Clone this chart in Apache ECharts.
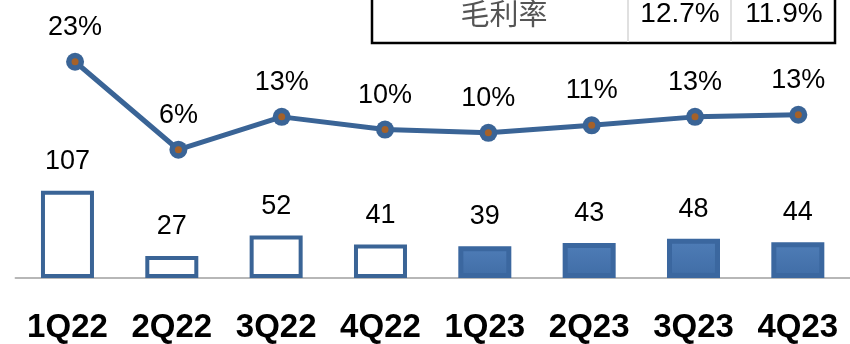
<!DOCTYPE html>
<html>
<head>
<meta charset="utf-8">
<script src="https://cdn.jsdelivr.net/npm/echarts@6/dist/echarts.min.js"></script>
<style>
  html, body { margin: 0; padding: 0; background: #fff; }
  #chart { width: 850px; height: 344px; }
</style>
</head>
<body>
<div id="chart"></div>
<script>
const quarters = ['1Q22', '2Q22', '3Q22', '4Q22', '1Q23', '2Q23', '3Q23', '4Q23']
const revenue = [107, 27, 52, 41, 39, 43, 48, 44]
const margin = [23.0, 6.4, 12.6, 10.2, 9.6, 11.0, 12.6, 13.0]
// first four quarters drawn hollow, the rest filled
const hollowCount = 4
const tableLabel = '毛利率'
const tableValues = ['12.7%', '11.9%']

const blue = '#3a6496'
const fillGradient = new echarts.graphic.LinearGradient(0, 0, 0, 1, [
  { offset: 0, color: '#6a94c9' },
  { offset: 0.12, color: '#4d7bb5' },
  { offset: 0.85, color: '#426fa8' },
  { offset: 1, color: '#2d5386' }
])

const barData = revenue.map((v, i) => ({
  value: v,
  itemStyle: i < hollowCount
    ? { color: '#fff', borderColor: blue, borderWidth: 4 }
    : { color: fillGradient, borderColor: '#3b679f', borderWidth: 5 }
}))

const chart = echarts.init(document.getElementById('chart'))
const option = {
  animation: false,
  grid: [
    { left: 15.3, right: -8.7, top: 0, bottom: 63.5 },
    { left: 23.4, right: -9.5, top: 24.65, bottom: 160.35 }
  ],
  xAxis: [
    {
      type: 'category',
      gridIndex: 0,
      data: quarters,
      axisLine: { lineStyle: { color: '#a0a0a0', width: 1.5 } },
      axisTick: { show: false },
      axisLabel: {
        interval: 0,
        margin: 33,
        color: '#000',
        fontFamily: 'Liberation Sans',
        fontWeight: 'bold',
        fontSize: 33
      }
    },
    {
      type: 'category',
      gridIndex: 1,
      data: quarters,
      show: false
    }
  ],
  yAxis: [
    { type: 'value', gridIndex: 0, min: 0, max: 341, show: false },
    { type: 'value', gridIndex: 1, min: 0, max: 30, show: false }
  ],
  series: [
    {
      name: '營收',
      type: 'bar',
      xAxisIndex: 0,
      yAxisIndex: 0,
      barWidth: 53,
      data: barData,
      z: 1,
      label: {
        show: true,
        position: 'top',
        distance: 16,
        color: '#000',
        fontFamily: 'Liberation Sans',
        fontSize: 27
      }
    },
    {
      name: tableLabel,
      type: 'line',
      xAxisIndex: 1,
      yAxisIndex: 1,
      data: margin,
      symbol: 'circle',
      symbolSize: 18,
      lineStyle: { color: blue, width: 5 },
      itemStyle: { color: blue },
      z: 3,
      label: {
        show: true,
        position: 'top',
        distance: 12,
        color: '#000',
        fontFamily: 'Liberation Sans',
        fontSize: 27,
        formatter: (p) => Math.round(p.value) + '%'
      }
    },
    {
      // orange centre dot of each marker
      type: 'scatter',
      xAxisIndex: 1,
      yAxisIndex: 1,
      data: margin,
      symbol: 'circle',
      symbolSize: 7,
      itemStyle: { color: '#c0600c' },
      z: 4,
      silent: true
    }
  ],
  graphic: [
    {
      type: 'rect',
      shape: { x: 372, y: -20, width: 463, height: 63 },
      style: { fill: '#fff', stroke: '#000', lineWidth: 2.5 },
      z: 10
    },
    {
      type: 'line',
      shape: { x1: 628, y1: -20, x2: 628, y2: 42 },
      style: { stroke: '#e0e0e0', lineWidth: 2 },
      z: 11
    },
    {
      type: 'line',
      shape: { x1: 731, y1: -20, x2: 731, y2: 42 },
      style: { stroke: '#e0e0e0', lineWidth: 2 },
      z: 11
    },
    {
      type: 'text',
      x: 504, y: 14,
      style: {
        text: tableLabel,
        fill: '#555',
        font: '29px "Noto Sans CJK TC"',
        align: 'center',
        verticalAlign: 'middle'
      },
      z: 12
    },
    {
      type: 'text',
      x: 680, y: 14,
      style: {
        text: tableValues[0],
        fill: '#000',
        font: '28px "Liberation Sans"',
        align: 'center',
        verticalAlign: 'middle'
      },
      z: 12
    },
    {
      type: 'text',
      x: 784, y: 14,
      style: {
        text: tableValues[1],
        fill: '#000',
        font: '28px "Liberation Sans"',
        align: 'center',
        verticalAlign: 'middle'
      },
      z: 12
    }
  ]
}
chart.setOption(option)
</script>
</body>
</html>
